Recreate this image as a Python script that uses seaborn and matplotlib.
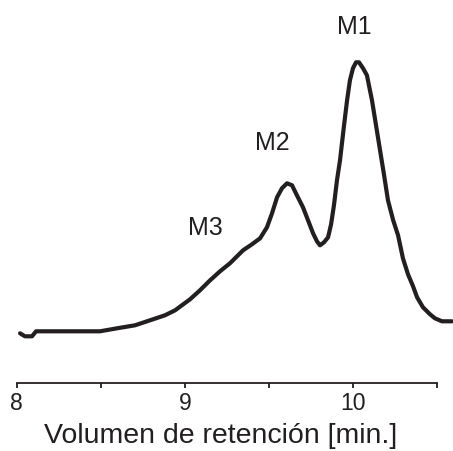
import matplotlib
matplotlib.use("Agg")
import matplotlib.pyplot as plt
import seaborn as sns
import pandas as pd

# Chromatogram (retention time [min], detector signal, arbitrary units)
retention = [8.020, 8.049, 8.091, 8.115, 8.257, 8.495, 8.596, 8.703, 8.792, 8.881,
             8.941, 9.030, 9.089, 9.149, 9.208, 9.267, 9.345, 9.398, 9.446, 9.487,
             9.517, 9.547, 9.576, 9.606, 9.636, 9.665, 9.701, 9.731, 9.761, 9.784,
             9.802, 9.826, 9.850, 9.868, 9.885, 9.903, 9.921, 9.945, 9.963, 9.980,
             9.998, 10.016, 10.034, 10.058, 10.081, 10.111, 10.135, 10.159, 10.183, 10.206,
             10.237, 10.266, 10.295, 10.325, 10.355, 10.379, 10.414, 10.456, 10.485, 10.527,
             10.586]
signal = [50, 47, 47, 52, 52, 52, 55, 58, 63, 68,
          73, 84, 93, 103, 112, 120, 133, 139, 145, 156,
          170, 186, 195, 200, 198, 188, 176, 163, 150, 142,
          138, 141, 146, 159, 178, 203, 223, 258, 283, 303,
          315, 321, 321, 315, 308, 283, 258, 233, 208, 183,
          163, 148, 125, 109, 97, 86, 76, 69, 65, 62,
          62]

peak_labels = ["M1", "M2", "M3"]
peak_label_x = [10.004, 9.517, 9.119]
peak_label_y = [356, 240, 155]

tick_values = [8, 8.5, 9, 9.5, 10, 10.5]
tick_labels = ["8", "", "9", "", "10", ""]
x_label = "Volumen de retención [min.]"

sns.set_style("white")
plt.rcParams["font.family"] = ["Liberation Sans", "DejaVu Sans"]

df = pd.DataFrame({"t": retention, "s": signal})

W, H = 453, 451
fig = plt.figure(figsize=(W / 100, H / 100), dpi=100)
left_px, axis_y_px, px_per_min = 16.7, 383.3, 168.3
ax = fig.add_axes([left_px / W, (H - axis_y_px) / H, (W - left_px) / W, axis_y_px / H])

ink = "#231f20"
sns.lineplot(data=df, x="t", y="s", ax=ax, color=ink, linewidth=3.0, sort=False)

ax.set_xlim(8, 8 + (W - left_px) / px_per_min)
ax.set_ylim(0, axis_y_px)

for side in ["top", "right", "left"]:
    ax.spines[side].set_visible(False)
ax.spines["bottom"].set_bounds(8, 10.5)
ax.spines["bottom"].set_linewidth(1.3)
ax.spines["bottom"].set_color(ink)

ax.set_xticks(tick_values)
ax.set_xticklabels(tick_labels)
ax.tick_params(axis="x", bottom=True, direction="out", length=3.5, width=1.3, color=ink,
               labelsize=16.5, labelcolor=ink, pad=2.5)
ax.set_yticks([])
ax.set_ylabel("")
ax.set_xlabel(x_label, fontsize=20.5, color=ink)
ax.xaxis.set_label_coords((220.5 - left_px) / (W - left_px), -(443 - axis_y_px) / axis_y_px)
ax.xaxis.label.set_va("baseline")

for lab, lx, ly in zip(peak_labels, peak_label_x, peak_label_y):
    ax.text(lx, ly, lab, ha="center", va="center", fontsize=18, color=ink)

fig.savefig("out.png", dpi=100)
